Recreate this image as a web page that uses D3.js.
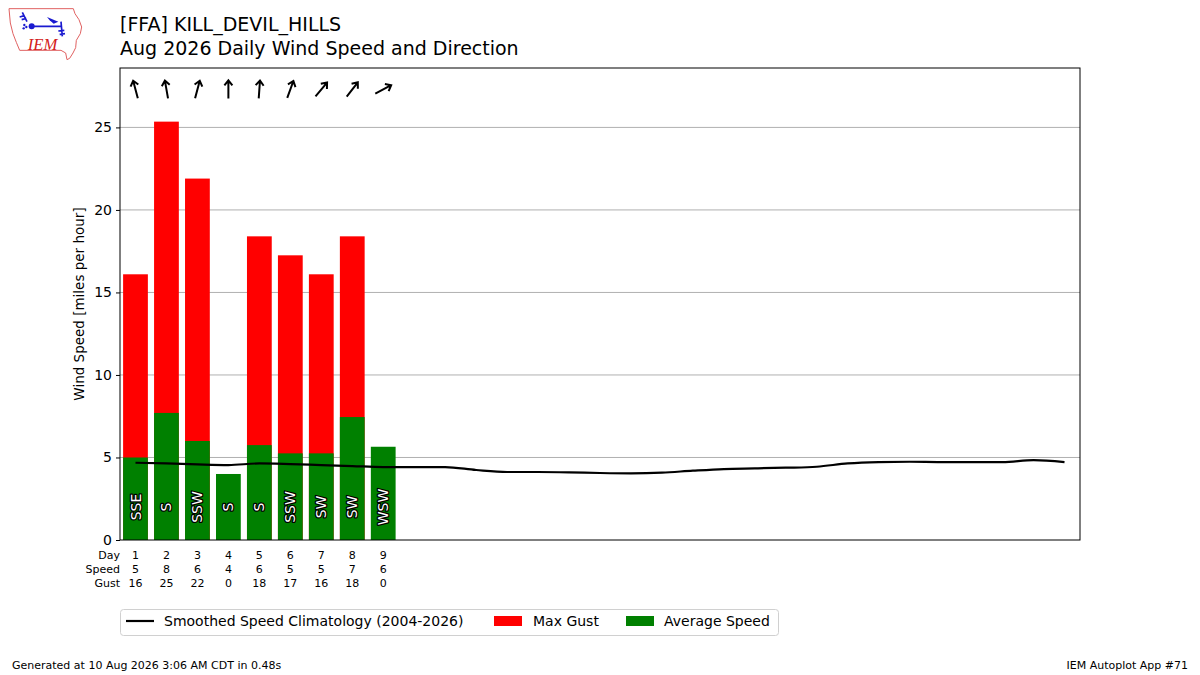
<!DOCTYPE html>
<html>
<head>
<meta charset="utf-8">
<script src="https://cdn.jsdelivr.net/npm/d3@7"></script>
<style>
  body { margin: 0; background: #fff; }
  svg { font-family: "DejaVu Sans", sans-serif; }
</style>
</head>
<body>
<svg id="chart" width="1200" height="675"></svg>
<script>
// observed days
var obsDays = [1, 2, 3, 4, 5, 6, 7, 8, 9];
var avgSpeed = [5.0, 7.7, 6.0, 4.0, 5.75, 5.25, 5.25, 7.45, 5.65];
var maxGust = [16.1, 25.35, 21.9, 0, 18.4, 17.25, 16.1, 18.4, 0];
var dirDeg = [165, 170, 195, 180, 184, 200, 220, 218, 242];
var dirLabel = ['SSE', 'S', 'SSW', 'S', 'S', 'SSW', 'SW', 'SW', 'WSW'];

// climatology for whole month
var climoDays = d3.range(1, 32);
var climoSpeed = [4.68, 4.64, 4.58, 4.54, 4.64, 4.6, 4.54, 4.48, 4.42, 4.42,
  4.42, 4.24, 4.12, 4.12, 4.1, 4.06, 4.04, 4.08, 4.2, 4.3,
  4.34, 4.38, 4.44, 4.64, 4.72, 4.74, 4.72, 4.72, 4.72, 4.84, 4.72];

var yTicks = [0, 5, 10, 15, 20, 25];

var svg = d3.select('#chart');
var plotL = 120, plotR = 1080, plotT = 68, plotB = 540;

var x = d3.scaleLinear().domain([0.5, 31.5]).range([plotL, plotR]);
var y = d3.scaleLinear().domain([0, 28.6]).range([plotB, plotT]);
var bw = x(1.4) - x(0.6);

// logo (rough sketch, drawn at 3x then scaled down)
var logo = svg.append('g').attr('transform', 'translate(5,3) scale(0.3333)');
logo.append('path')
  .attr('d', 'M12,17 L205,17 L210,32 L222,50 L230,72 L226,92 L214,112 L212,134 L204,150 L194,166 L186,170 L182,150 L168,142 L44,142 L34,118 L24,92 L16,60 Z')
  .attr('fill', 'none').attr('stroke', '#e06060').attr('stroke-width', 3);
logo.append('path')
  .attr('d', 'M78,70 L168,70 M52,28 L66,56 M44,42 L58,38 M50,50 L64,46 M168,56 L172,100 M160,84 L178,82 M164,94 L180,92')
  .attr('stroke', '#1a1ad0').attr('stroke-width', 5).attr('fill', 'none');
logo.append('circle').attr('cx', 80).attr('cy', 70).attr('r', 9).attr('fill', '#1a1ad0');
logo.append('path').attr('d', 'M126,42 L160,56 L146,62 L134,52 Z').attr('fill', '#1a1ad0');
logo.append('g').selectAll('circle').data([[58, 66], [64, 72], [56, 76]]).enter().append('circle')
  .attr('cx', function (d) { return d[0]; }).attr('cy', function (d) { return d[1]; })
  .attr('r', 3.5).attr('fill', '#1a1ad0');
logo.append('text').attr('x', 68).attr('y', 140).text('IEM')
  .attr('font-family', 'Liberation Serif, serif').attr('font-style', 'italic')
  .attr('font-size', 50).attr('fill', '#d42020');

// titles
svg.append('text').attr('x', 120).attr('y', 31).attr('font-size', 19).text('[FFA] KILL_DEVIL_HILLS');
svg.append('text').attr('x', 120).attr('y', 55).attr('font-size', 19).text('Aug 2026 Daily Wind Speed and Direction');

// grid
svg.append('g').selectAll('line').data(yTicks.filter(function (d) { return d > 0; }))
  .enter().append('line')
  .attr('x1', plotL).attr('x2', plotR)
  .attr('y1', function (d) { return y(d); }).attr('y2', function (d) { return y(d); })
  .attr('stroke', '#b0b0b0').attr('stroke-width', 1);

// gust bars
svg.append('g').selectAll('rect').data(obsDays)
  .enter().append('rect')
  .attr('x', function (d) { return x(d) - bw / 2; })
  .attr('width', bw)
  .attr('y', function (d, i) { return y(maxGust[i]); })
  .attr('height', function (d, i) { return y(0) - y(maxGust[i]); })
  .attr('fill', '#ff0000');

// average bars
svg.append('g').selectAll('rect').data(obsDays)
  .enter().append('rect')
  .attr('x', function (d) { return x(d) - bw / 2; })
  .attr('width', bw)
  .attr('y', function (d, i) { return y(avgSpeed[i]); })
  .attr('height', function (d, i) { return y(0) - y(avgSpeed[i]); })
  .attr('fill', '#008000');

// direction labels in bars
svg.append('g').selectAll('text').data(obsDays)
  .enter().append('text')
  .attr('transform', function (d) { return 'translate(' + x(d) + ',' + y(2) + ') rotate(-90)'; })
  .attr('text-anchor', 'middle').attr('dy', '0.36em')
  .attr('font-size', 14)
  .attr('fill', '#fff').attr('stroke', '#000').attr('stroke-width', 2.5)
  .attr('paint-order', 'stroke').attr('stroke-linejoin', 'round')
  .text(function (d, i) { return dirLabel[i]; });

// climatology line
var line = d3.line()
  .x(function (d) { return x(d); })
  .y(function (d, i) { return y(climoSpeed[i]); })
  .curve(d3.curveMonotoneX);
svg.append('path').datum(climoDays)
  .attr('d', line).attr('fill', 'none')
  .attr('stroke', '#000').attr('stroke-width', 2.2);

// direction arrows
svg.append('g').selectAll('path').data(obsDays)
  .enter().append('path')
  .attr('transform', function (d, i) {
    return 'translate(' + x(d) + ',' + y(27.3) + ') rotate(' + (dirDeg[i] + 180) + ')';
  })
  .attr('d', 'M0,9 L0,-9 M-4,-4 L0,-9 L4,-4')
  .attr('fill', 'none').attr('stroke', '#000').attr('stroke-width', 2)
  .attr('stroke-linejoin', 'miter');

// axes frame
svg.append('rect').attr('x', plotL).attr('y', plotT)
  .attr('width', plotR - plotL).attr('height', plotB - plotT)
  .attr('fill', 'none').attr('stroke', '#000').attr('stroke-width', 1);

var yAxis = svg.append('g').attr('transform', 'translate(' + plotL + ',0)')
  .call(d3.axisLeft(y).tickValues(yTicks).tickSize(4).tickPadding(4));
yAxis.select('.domain').remove();
yAxis.selectAll('text').attr('font-size', 14).attr('font-family', 'DejaVu Sans');

svg.append('text')
  .attr('transform', 'translate(84,' + ((plotT + plotB) / 2) + ') rotate(-90)')
  .attr('text-anchor', 'middle').attr('font-size', 13.5)
  .text('Wind Speed [miles per hour]');

// bottom table
var rows = [
  { name: 'Day', vals: obsDays.map(String) },
  { name: 'Speed', vals: avgSpeed.map(function (v) { return String(Math.round(v)); }) },
  { name: 'Gust', vals: maxGust.map(function (v) { return String(Math.round(v)); }) }
];
rows.forEach(function (r, k) {
  var yy = 559 + k * 14;
  svg.append('text').attr('x', 120).attr('y', yy).attr('text-anchor', 'end')
    .attr('font-size', 11).text(r.name);
  svg.append('g').selectAll('text').data(r.vals).enter().append('text')
    .attr('x', function (d, i) { return x(obsDays[i]); })
    .attr('y', yy).attr('text-anchor', 'middle').attr('font-size', 11)
    .text(function (d) { return d; });
});

// legend
var lg = svg.append('g');
lg.append('rect').attr('x', 120.5).attr('y', 609.5).attr('width', 658).attr('height', 26)
  .attr('rx', 3).attr('fill', '#fff').attr('stroke', '#d0d0d0');
lg.append('line').attr('x1', 126).attr('x2', 154).attr('y1', 621).attr('y2', 621)
  .attr('stroke', '#000').attr('stroke-width', 2.2);
lg.append('text').attr('x', 164).attr('y', 626).attr('font-size', 14)
  .text('Smoothed Speed Climatology (2004-2026)');
lg.append('rect').attr('x', 494).attr('y', 616).attr('width', 28).attr('height', 10).attr('fill', '#ff0000');
lg.append('text').attr('x', 533).attr('y', 626).attr('font-size', 14).text('Max Gust');
lg.append('rect').attr('x', 626).attr('y', 616).attr('width', 28).attr('height', 10).attr('fill', '#008000');
lg.append('text').attr('x', 664).attr('y', 626).attr('font-size', 14).text('Average Speed');

// footer
svg.append('text').attr('x', 12).attr('y', 669).attr('font-size', 11)
  .text('Generated at 10 Aug 2026 3:06 AM CDT in 0.48s');
svg.append('text').attr('x', 1188).attr('y', 669).attr('font-size', 11).attr('text-anchor', 'end')
  .text('IEM Autoplot App #71');
</script>
</body>
</html>
